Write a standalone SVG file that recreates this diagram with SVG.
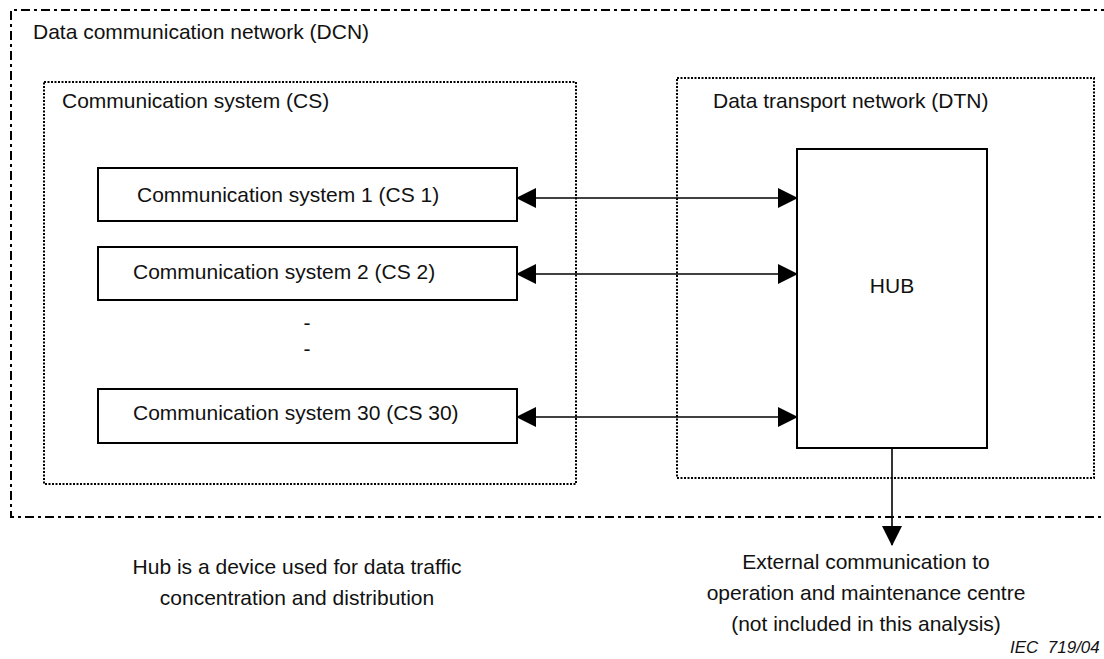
<svg xmlns="http://www.w3.org/2000/svg" width="1104" height="659" viewBox="0 0 1104 659">
<style>
  text { font-family: "Liberation Sans", Arial, sans-serif; font-size: 21px; fill: #111; }
  .box { fill: #fff; stroke: #000; stroke-width: 2; }
  .dcn { fill: none; stroke: #000; stroke-width: 2; stroke-dasharray: 9 4 3 4; }
  .dot { fill: none; stroke: #000; stroke-width: 2; stroke-dasharray: 2 1.5; }
  .conn { stroke: #000; stroke-width: 1.6; fill: none; }
  .mid { text-anchor: middle; }
  .iec { font-size: 17px; font-style: italic; }
</style>
<defs>
  <marker id="ah" markerUnits="userSpaceOnUse" markerWidth="20" markerHeight="20" viewBox="0 0 20 20" refX="19" refY="10" orient="auto-start-reverse">
    <path d="M0,0 L20,10 L0,20 Z" fill="#000"/>
  </marker>
</defs>
<rect width="1104" height="659" fill="#fff"/>
<g id="dcn">
  <path class="dcn" d="M1110,10 H11 V517 H1110"/>
  <text x="33" y="39">Data communication network (DCN)</text>
</g>
<g id="cs-container">
  <rect class="dot" x="44" y="82" width="532" height="402"/>
  <text x="62" y="108">Communication system (CS)</text>
</g>
<g id="dtn-container">
  <rect class="dot" x="677" y="78" width="417" height="400"/>
  <text x="713" y="108">Data transport network (DTN)</text>
</g>
<g id="cs1">
  <rect class="box" x="98" y="168" width="419" height="53"/>
  <text x="137" y="202">Communication system 1 (CS 1)</text>
</g>
<g id="cs2">
  <rect class="box" x="98" y="247" width="419" height="53"/>
  <text x="133" y="279">Communication system 2 (CS 2)</text>
</g>
<g id="ellipsis">
  <text class="mid" x="307" y="330">-</text>
  <text class="mid" x="307" y="356">-</text>
</g>
<g id="cs30">
  <rect class="box" x="98" y="389" width="419" height="54"/>
  <text x="133" y="420">Communication system 30 (CS 30)</text>
</g>
<g id="hub">
  <rect class="box" x="797" y="149" width="190" height="299"/>
  <text class="mid" x="892" y="293">HUB</text>
</g>
<g id="connectors">
  <line class="conn" x1="517" y1="198" x2="797" y2="198" marker-start="url(#ah)" marker-end="url(#ah)"/>
  <line class="conn" x1="517" y1="274" x2="797" y2="274" marker-start="url(#ah)" marker-end="url(#ah)"/>
  <line class="conn" x1="517" y1="417" x2="797" y2="417" marker-start="url(#ah)" marker-end="url(#ah)"/>
  <line class="conn" x1="892" y1="448" x2="892" y2="545" marker-end="url(#ah)"/>
</g>
<g id="notes">
  <text class="mid" x="297" y="574">Hub is a device used for data traffic</text>
  <text class="mid" x="297" y="605">concentration and distribution</text>
  <text class="mid" x="866" y="569">External communication to</text>
  <text class="mid" x="866" y="600">operation and maintenance centre</text>
  <text class="mid" x="866" y="631">(not included in this analysis)</text>
  <text class="iec" x="1010" y="653" xml:space="preserve">IEC  719/04</text>
</g>
</svg>
